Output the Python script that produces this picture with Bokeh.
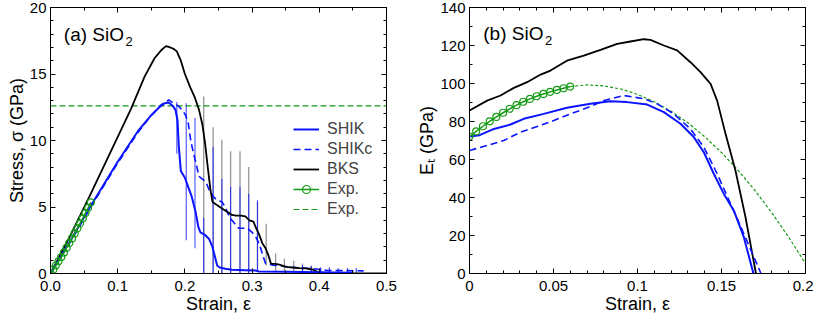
from bokeh.plotting import figure
from bokeh.models import Range1d, FixedTicker, LinearAxis, Label, Legend, LegendItem
from bokeh.layouts import row
from bokeh.embed import file_html
from bokeh.resources import INLINE

FONT = "Liberation Sans"
BLUE = "#0a14ff"
GREEN = "#159a15"
GRAY = "#8a8a8a"

# ---------------- panel (a): stress-strain ----------------
bks_strain = [0, 0.03, 0.06, 0.09, 0.12, 0.14, 0.155, 0.165, 0.172, 0.178, 0.183, 0.188, 0.194, 0.2,
              0.208, 0.215, 0.221, 0.226, 0.230, 0.234, 0.238, 0.241, 0.246, 0.252, 0.258, 0.264,
              0.270, 0.276, 0.283, 0.290, 0.296, 0.302, 0.306, 0.31, 0.315, 0.32, 0.324, 0.328,
              0.335, 0.342, 0.35, 0.36, 0.37, 0.38, 0.39, 0.397, 0.405, 0.42, 0.45, 0.5]
bks_stress = [0, 2.9, 6.0, 9.2, 12.4, 14.8, 16.2, 16.8, 17.1, 17.0, 16.9, 16.7, 16.0, 15.0,
              14.0, 13.2, 12.3, 11.2, 9.8, 8.0, 6.3, 5.4, 5.2, 5.0, 4.8, 4.6,
              4.4, 4.35, 4.35, 4.3, 4.0, 3.9, 3.4, 3.0, 2.3, 1.9, 1.4, 0.75,
              0.72, 0.65, 0.5, 0.45, 0.4, 0.38, 0.3, 0.12, 0.05, 0.02, 0.0, 0.0]

shik_strain = [0, 0.03, 0.06, 0.1, 0.13, 0.15, 0.162, 0.17, 0.176, 0.182, 0.186, 0.189, 0.191, 0.194,
               0.2, 0.205, 0.21, 0.216, 0.22, 0.223, 0.23, 0.236, 0.241, 0.245, 0.248, 0.252, 0.26,
               0.27, 0.29, 0.305, 0.31, 0.35, 0.4, 0.45]
shik_stress = [0, 2.5, 5.1, 8.4, 10.7, 11.9, 12.5, 12.8, 12.85, 12.6, 12.3, 11.5, 9.5, 7.7,
               7.2, 6.5, 5.8, 4.6, 3.5, 3.1, 2.9, 2.6, 2.0, 1.2, 0.6, 0.45, 0.35,
               0.28, 0.25, 0.22, 0.15, 0.13, 0.1, 0.05]

shikc_strain = [0, 0.03, 0.06, 0.1, 0.13, 0.15, 0.165, 0.176, 0.183, 0.19, 0.196, 0.201, 0.205, 0.209,
                0.213, 0.217, 0.221, 0.226, 0.231, 0.236, 0.242, 0.248, 0.255, 0.26, 0.265, 0.27,
                0.28, 0.293, 0.3, 0.306, 0.311, 0.315, 0.32, 0.332, 0.357, 0.392, 0.412, 0.466]
shikc_stress = [0, 2.4, 5.0, 8.3, 10.6, 11.9, 12.7, 13.05, 12.8, 12.6, 12.3, 11.9, 11.3, 9.9,
                9.0, 8.2, 7.3, 7.1, 6.9, 6.3, 5.8, 5.5, 5.4, 5.0, 4.4, 4.0,
                3.4, 3.4, 3.1, 2.7, 2.2, 1.5, 0.75, 0.63, 0.48, 0.36, 0.23, 0.2]

# error bars
bks_err_strain = [0.228, 0.242, 0.255, 0.268, 0.282, 0.295, 0.308, 0.321, 0.335, 0.348, 0.362, 0.375, 0.388, 0.402]
bks_err_top = [13.3, 11.0, 10.05, 9.2, 9.2, 8.0, 5.4, 3.75, 1.5, 1.1, 0.95, 0.75, 0.6, 0.4]
bks_err_bot = [0, 0, 0, 0, 0, 0, 0.3, 0.6, 0.1, 0.2, 0.1, 0.1, 0.1, 0.0]

shik_err_strain = [0.188, 0.202, 0.215, 0.228, 0.242, 0.255, 0.268, 0.282, 0.295, 0.308]
shik_err_top = [12.9, 12.8, 11.7, 4.2, 9.5, 7.1, 6.5, 6.5, 6.0, 5.5]
shik_err_bot = [9.0, 2.5, 1.9, 0, 0, 0, 0, 0, 0, 0.25]

shikc_err_strain = [0.375, 0.388, 0.402, 0.415, 0.428, 0.442, 0.455]
shikc_err_top = [0.6, 0.55, 0.45, 0.45, 0.4, 0.4, 0.4]
shikc_err_bot = [0.15, 0.1, 0.05, 0.05, 0.05, 0.05, 0.05]

exp_strain = [0, 0.004, 0.008, 0.012, 0.016, 0.02, 0.024, 0.028, 0.032, 0.036, 0.04, 0.044, 0.048, 0.052, 0.056, 0.06]
exp_stress = [0, 0.29, 0.60, 0.92, 1.24, 1.58, 1.93, 2.28, 2.64, 3.01, 3.39, 3.77, 4.15, 4.54, 4.93, 5.35]
exp_strength_strain = [0, 0.5]
exp_strength = [12.6, 12.6]

a_xticks = [0, 0.1, 0.2, 0.3, 0.4, 0.5]
a_xlabels = ["0.0", "0.1", "0.2", "0.3", "0.4", "0.5"]
a_xminor = [0.05, 0.15, 0.25, 0.35, 0.45]
a_yticks = [0, 5, 10, 15, 20]
a_ylabels = ["0", "5", "10", "15", "20"]
a_yminor = [v for v in range(0, 21) if v % 5 != 0]

# ---------------- panel (b): tangent modulus ----------------
bks_et_strain = [0, 0.0105, 0.0185, 0.0264, 0.0343, 0.0423, 0.0482, 0.058, 0.068, 0.078, 0.0879, 0.0958,
                 0.1038, 0.1077, 0.1157, 0.1236, 0.1315, 0.1375, 0.1435, 0.1474, 0.1524, 0.1583, 0.1643, 0.1705]
bks_et = [85.8, 91.0, 93.7, 97.7, 100.7, 104.7, 106.8, 112.0, 114.7, 117.7, 120.9, 122.1,
          123.3, 123.0, 120.0, 117.4, 111.2, 106.0, 99.8, 91.0, 73.5, 54.2, 29.6, 0]

shik_et_strain = [0, 0.006, 0.0145, 0.0244, 0.0323, 0.0442, 0.058, 0.072, 0.0839, 0.0938, 0.1058, 0.1157,
                  0.1256, 0.1335, 0.1395, 0.1454, 0.1514, 0.1573, 0.1633, 0.169]
shik_et = [72.1, 72.8, 76.1, 78.4, 81.4, 84.0, 87.2, 89.3, 90.7, 90.2, 88.9, 84.9,
           78.8, 71.8, 63.8, 52.5, 41.9, 33.2, 19.1, 0]

shikc_et_strain = [0, 0.0105, 0.0204, 0.0304, 0.0403, 0.0502, 0.0601, 0.07, 0.08, 0.0919, 0.1038, 0.1117,
                   0.1216, 0.1315, 0.1395, 0.1474, 0.1554, 0.1633, 0.1735]
shikc_et = [64.7, 67.4, 70.0, 74.4, 77.4, 80.5, 84.0, 87.2, 91.0, 93.7, 92.0, 89.3,
            84.0, 76.1, 66.5, 52.5, 36.7, 20.9, 0]

exp_et = [72.1, 74.8, 77.5, 80.1, 82.4, 84.6, 86.7, 88.6, 90.4, 91.9, 93.3, 94.5, 95.6, 96.6, 97.5, 98.4]

exp_fit_strain = [0.06, 0.07, 0.08, 0.09, 0.10, 0.11, 0.12, 0.13, 0.14, 0.15, 0.16, 0.17, 0.18, 0.19, 0.20]
exp_fit_et = [98.4, 99.3, 98.7, 97.1, 94.3, 90.4, 85.4, 79.3, 72.0, 63.7, 54.2, 43.6, 31.9, 19.1, 5.2]

b_xticks = [0, 0.05, 0.1, 0.15, 0.2]
b_xlabels = ["0", "0.05", "0.1", "0.15", "0.2"]
b_xminor = [0.01, 0.02, 0.03, 0.04, 0.06, 0.07, 0.08, 0.09, 0.11, 0.12, 0.13, 0.14, 0.16, 0.17, 0.18, 0.19]
b_yticks = [0, 20, 40, 60, 80, 100, 120, 140]
b_ylabels = ["0", "20", "40", "60", "80", "100", "120", "140"]
b_yminor = [10, 30, 50, 70, 90, 110, 130]


def style_axes(p, xt, xm, xl, yt, ym, yl):
    p.grid.visible = False
    p.outline_line_color = "black"
    p.outline_line_width = 1
    for ax, t, m, l in ((p.xaxis[0], xt, xm, xl), (p.yaxis[0], yt, ym, yl)):
        ax.ticker = FixedTicker(ticks=t, minor_ticks=m)
        ax.major_label_overrides = {tv: lv for tv, lv in zip(t, l)}
        ax.major_tick_in = 5
        ax.major_tick_out = 0
        ax.minor_tick_in = 3
        ax.minor_tick_out = 0
        ax.major_label_text_font = FONT
        ax.major_label_text_font_size = "15px"
        ax.major_label_text_color = "black"
        ax.axis_label_text_font = FONT
        ax.axis_label_text_font_size = "18px"
        ax.axis_label_text_font_style = "normal"
        ax.axis_label_text_color = "black"
        ax.axis_line_color = "black"
    p.xaxis[0].major_label_standoff = 7
    p.xaxis[0].axis_label_standoff = 0
    p.yaxis[0].major_label_standoff = 4
    p.yaxis[0].axis_label_standoff = 0
    # mirrored ticks on top / right (no labels drawn)
    for loc, t, m in (("above", xt, xm), ("right", yt, ym)):
        ax = LinearAxis(ticker=FixedTicker(ticks=t, minor_ticks=m),
                        major_tick_in=5, major_tick_out=0, minor_tick_in=3, minor_tick_out=0,
                        major_label_text_font_size="1px", major_label_text_color=None,
                        major_label_standoff=0, axis_line_color="black")
        p.add_layout(ax, loc)


# ---------- figure (a) ----------
p1 = figure(width=408, height=319, x_range=Range1d(0, 0.5), y_range=Range1d(0, 20),
            output_backend="svg", toolbar_location=None,
            min_border_left=50, min_border_right=22, min_border_top=7, min_border_bottom=46,
            x_axis_label="Strain, ε", y_axis_label="Stress, σ (GPa)")
style_axes(p1, a_xticks, a_xminor, a_xlabels, a_yticks, a_yminor, a_ylabels)

p1.segment(x0=bks_err_strain, y0=bks_err_bot, x1=bks_err_strain, y1=bks_err_top,
           line_color=GRAY, line_width=1.3, line_alpha=0.9)
p1.segment(x0=shik_err_strain, y0=shik_err_bot, x1=shik_err_strain, y1=shik_err_top,
           line_color=BLUE, line_width=1.1, line_alpha=0.75)
p1.segment(x0=shikc_err_strain, y0=shikc_err_bot, x1=shikc_err_strain, y1=shikc_err_top,
           line_color=BLUE, line_width=1.1, line_alpha=0.9)

r_exps = p1.line(exp_strength_strain, exp_strength, line_color=GREEN, line_width=1.2, line_dash="6 3")
r_shikc = p1.line(shikc_strain, shikc_stress, line_color=BLUE, line_width=1.6, line_dash="7 4")
r_bks = p1.line(bks_strain, bks_stress, line_color="black", line_width=1.8)
r_shik = p1.line(shik_strain, shik_stress, line_color=BLUE, line_width=2)
r_expl = p1.line(exp_strain, exp_stress, line_color=GREEN, line_width=1.5)
r_expc = p1.scatter(exp_strain, exp_stress, marker="circle", size=7, fill_color=None,
                    line_color=GREEN, line_width=1.2)

legend = Legend(items=[
    LegendItem(label="SHIK", renderers=[r_shik]),
    LegendItem(label="SHIKc", renderers=[r_shikc]),
    LegendItem(label="BKS", renderers=[r_bks]),
    LegendItem(label="Exp.", renderers=[r_expl, r_expc]),
    LegendItem(label="Exp.", renderers=[r_exps]),
], location=(243, 54))
legend.border_line_color = None
legend.background_fill_alpha = 0
legend.padding = 0
legend.margin = 0
legend.spacing = 0
legend.glyph_width = 26
legend.glyph_height = 20
legend.label_height = 20
legend.label_standoff = 8
legend.label_text_font = FONT
legend.label_text_font_size = "16px"
p1.add_layout(legend)

p1.add_layout(Label(x=0.0198, y=18.0, text="(a) SiO", text_font=FONT, text_font_size="19px",
                    text_baseline="alphabetic", text_color="black"))
p1.add_layout(Label(x=0.1116, y=17.45, text="2", text_font=FONT, text_font_size="13px",
                    text_baseline="alphabetic", text_color="black"))

# ---------- figure (b) ----------
p2 = figure(width=405, height=319, x_range=Range1d(0, 0.2), y_range=Range1d(0, 140),
            output_backend="svg", toolbar_location=None,
            min_border_left=61, min_border_right=8, min_border_top=7, min_border_bottom=46,
            x_axis_label="Strain, ε", y_axis_label="Eₜ (GPa)")
style_axes(p2, b_xticks, b_xminor, b_xlabels, b_yticks, b_yminor, b_ylabels)

p2.line(exp_fit_strain, exp_fit_et, line_color=GREEN, line_width=1.2, line_dash="3 2")
p2.line(bks_et_strain, bks_et, line_color="black", line_width=1.8)
p2.line(shikc_et_strain, shikc_et, line_color=BLUE, line_width=1.6, line_dash="7 4")
p2.line(shik_et_strain, shik_et, line_color=BLUE, line_width=2)
p2.line(exp_strain, exp_et, line_color=GREEN, line_width=1.5)
p2.scatter(exp_strain, exp_et, marker="circle", size=7, fill_color=None, line_color=GREEN, line_width=1.2)

p2.add_layout(Label(x=0.0082, y=126.2, text="(b) SiO", text_font=FONT, text_font_size="19px",
                    text_baseline="alphabetic", text_color="black"))
p2.add_layout(Label(x=0.0449, y=122.8, text="2", text_font=FONT, text_font_size="13px",
                    text_baseline="alphabetic", text_color="black"))

layout = row(p1, p2, spacing=0)
open("out.html", "w").write(file_html(layout, INLINE))
